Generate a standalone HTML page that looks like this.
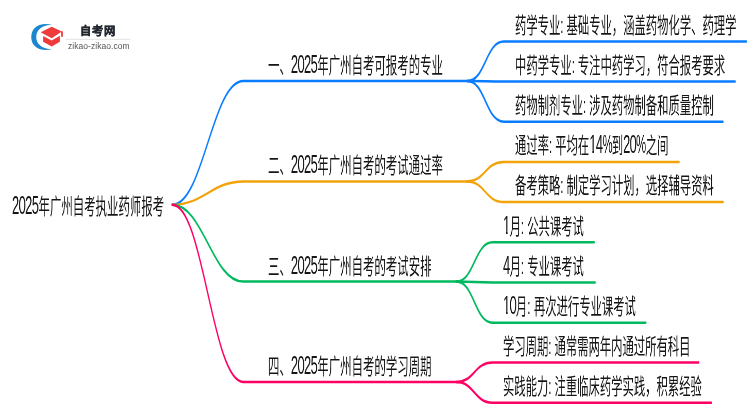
<!DOCTYPE html>
<html lang="zh-CN"><head><meta charset="utf-8"><style>
html,body{margin:0;padding:0;background:#fff;width:750px;height:410px;overflow:hidden}
body{position:relative;font-family:"Liberation Sans",sans-serif;color:#161616}
svg.l,svg.g{position:absolute;left:0;top:0}
svg.l path{fill:none;stroke-width:2.5;stroke-linecap:round}
.t{position:absolute;line-height:30px;white-space:nowrap;transform-origin:0 0;will-change:transform;-webkit-font-smoothing:antialiased}
.d{font-size:25px;line-height:0;letter-spacing:-1.25px}
.p{display:inline-block;transform:scaleX(0.88);transform-origin:0 0;margin-right:-2.6px}
.o{clip-path:polygon(-3px -20px,20px -20px,20px 20.55px,8.75px 20.55px,8.75px 40px,6.05px 40px,6.05px 20.55px,-3px 20.55px)}
.lg1{position:absolute;left:80px;top:23px;font-size:11.3px;line-height:16px;font-weight:bold;letter-spacing:0.75px;color:#222730;-webkit-text-stroke:0.35px #222730;white-space:nowrap;will-change:transform}
.lg2{position:absolute;left:67.6px;top:40.6px;font-size:8.5px;line-height:10px;color:#555;letter-spacing:0.05px;white-space:nowrap;will-change:transform}
</style></head><body>
<svg class="l" width="750" height="410" viewBox="0 0 1456.31 410" preserveAspectRatio="none">
<path d="M334.56,204.8 C395.22,204.8 411.77,81.0 472.43,81.0 L907.38,81.0" stroke="#0a7cff"/>
<path d="M907.38,81.0 C942.82,81.0 942.82,41.6 978.25,41.6 L1449.32,41.6" stroke="#0a7cff"/>
<path d="M907.38,81.0 C942.82,81.0 942.82,81.6 978.25,81.6 L1427.57,81.6" stroke="#0a7cff"/>
<path d="M907.38,81.0 C942.82,81.0 942.82,121.7 978.25,121.7 L1403.88,121.7" stroke="#0a7cff"/>
<path d="M334.56,204.8 C395.22,204.8 411.77,181.4 472.43,181.4 L906.80,181.4" stroke="#f2a30a"/>
<path d="M906.80,181.4 C942.23,181.4 942.23,162.0 977.67,162.0 L1318.64,162.0" stroke="#f2a30a"/>
<path d="M906.80,181.4 C942.23,181.4 942.23,202.1 977.67,202.1 L1404.27,202.1" stroke="#f2a30a"/>
<path d="M334.56,204.8 C395.22,204.8 411.77,281.6 472.43,281.6 L886.02,281.6" stroke="#00b95f"/>
<path d="M886.02,281.6 C921.26,281.6 921.26,242.3 956.50,242.3 L1153.98,242.3" stroke="#00b95f"/>
<path d="M886.02,281.6 C921.26,281.6 921.26,282.4 956.50,282.4 L1155.73,282.4" stroke="#00b95f"/>
<path d="M886.02,281.6 C921.26,281.6 921.26,322.7 956.50,322.7 L1253.98,322.7" stroke="#00b95f"/>
<path d="M334.56,204.8 C395.22,204.8 411.77,382.0 472.43,382.0 L886.02,382.0" stroke="#ff0064"/>
<path d="M886.02,382.0 C920.97,382.0 920.97,362.6 955.92,362.6 L1356.70,362.6" stroke="#ff0064"/>
<path d="M886.02,382.0 C920.97,382.0 920.97,402.7 955.92,402.7 L1381.36,402.7" stroke="#ff0064"/>
</svg>
<svg class="g" width="750" height="410" viewBox="0 0 750 410">
<path d="M52,24.7 C46,23.3 38.5,23.6 34,28.8 C30.4,33 30.4,41 34,45.2 C38.5,50.4 46,50.8 52,49.3 C45.5,49.4 39.5,46.5 37.2,41.8 C35.9,39 35.9,35 37.2,32.2 C39.5,27.5 45.5,24.6 52,24.7 Z" fill="#1a87cf"/>
<path d="M40.7,32.2 L51.7,26.8 L61.9,31.6 L51.7,38.2 Z" fill="#ef3b3c"/>
<path d="M61.1,31.6 L62.9,31.2 L62.9,36.8 L61.1,36.8 Z" fill="#ef3b3c"/>
<path d="M43.1,36.1 L51.7,40.5 L59.9,35.8 L59.9,41.8 L51.7,46.6 L43.1,41.8 Z" fill="#ef3b3c"/>
<rect x="65.5" y="38.8" width="65" height="0.9" fill="#dedede"/>
</svg>
<div class="lg1">自考网</div>
<div class="lg2">zikao-zikao.com</div>
<div class="t" style="left:12px;top:191.5px;font-size:22px;transform:scaleX(0.519)"><span class="d">2025</span>年广州自考执业药师报考</div>
<div class="t" style="left:268.3px;top:51px;font-size:22px;transform:scaleX(0.519)">一、<span class="d">2025</span>年广州自考可报考的专业</div>
<div class="t" style="left:268.3px;top:151px;font-size:22px;transform:scaleX(0.519)">二、<span class="d">2025</span>年广州自考的考试通过率</div>
<div class="t" style="left:268.3px;top:251.8px;font-size:22px;transform:scaleX(0.519)">三、<span class="d">2025</span>年广州自考的考试安排</div>
<div class="t" style="left:268.3px;top:351.5px;font-size:22px;transform:scaleX(0.519)">四、<span class="d">2025</span>年广州自考的学习周期</div>
<div class="t" style="left:515px;top:10.5px;font-size:22px;transform:scaleX(0.515)">药学专业: 基础专业，涵盖药物化学、药理学</div>
<div class="t" style="left:515px;top:50.5px;font-size:22px;transform:scaleX(0.515)">中药学专业: 专注中药学习，符合报考要求</div>
<div class="t" style="left:515px;top:90.5px;font-size:22px;transform:scaleX(0.515)">药物制剂专业: 涉及药物制备和质量控制</div>
<div class="t" style="left:515px;top:131px;font-size:22px;transform:scaleX(0.515)">通过率: 平均在<span class="d"><span class="o">1</span>4<span class="p">%</span></span>到<span class="d">20<span class="p">%</span></span>之间</div>
<div class="t" style="left:515px;top:171px;font-size:22px;transform:scaleX(0.515)">备考策略: 制定学习计划，选择辅导资料</div>
<div class="t" style="left:503px;top:211.5px;font-size:22px;transform:scaleX(0.515)"><span class="d"><span class="o">1</span></span>月: 公共课考试</div>
<div class="t" style="left:503px;top:251.5px;font-size:22px;transform:scaleX(0.515)"><span class="d">4</span>月: 专业课考试</div>
<div class="t" style="left:503px;top:291.5px;font-size:22px;transform:scaleX(0.515)"><span class="d"><span class="o">1</span>0</span>月: 再次进行专业课考试</div>
<div class="t" style="left:503px;top:332px;font-size:22px;transform:scaleX(0.515)">学习周期: 通常需两年内通过所有科目</div>
<div class="t" style="left:503px;top:372px;font-size:22px;transform:scaleX(0.515)">实践能力: 注重临床药学实践，积累经验</div>
</body></html>
